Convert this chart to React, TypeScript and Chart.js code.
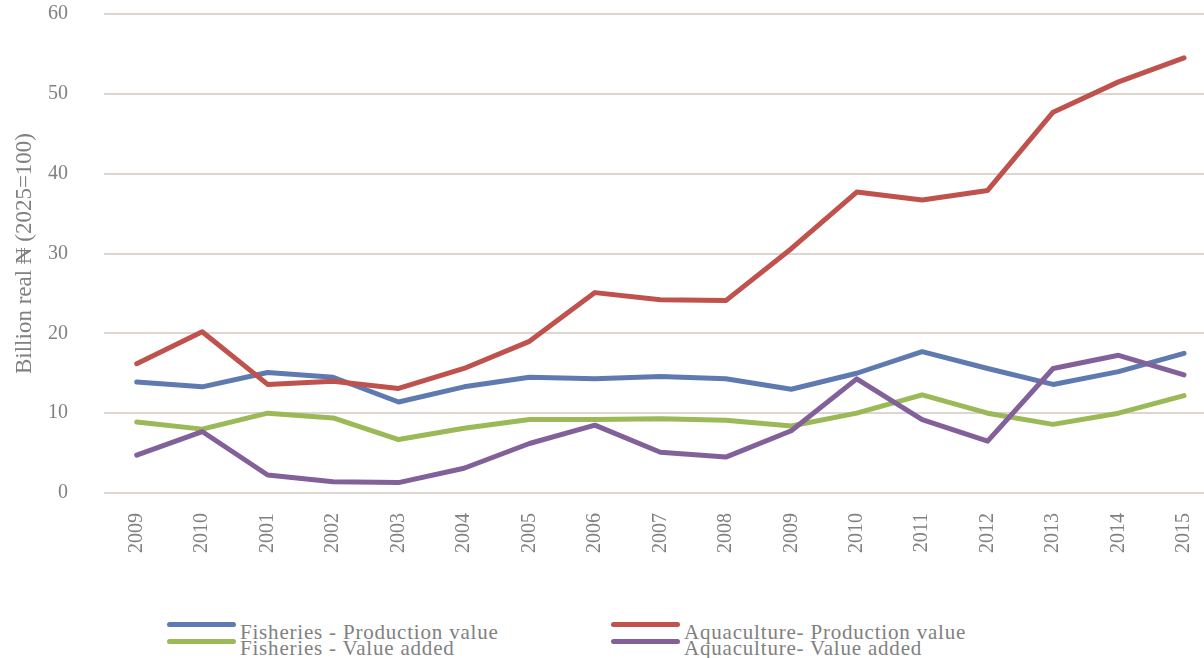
import React, { useEffect, useRef } from "react";
import { Chart, registerables } from "chart.js";

Chart.register(...registerables);

const categories = ["2009", "2010", "2001", "2002", "2003", "2004", "2005", "2006", "2007", "2008", "2009", "2010", "2011", "2012", "2013", "2014", "2015"];

const fisheriesProduction = [13.9, 13.3, 15.1, 14.5, 11.4, 13.3, 14.5, 14.3, 14.6, 14.3, 13.0, 15.0, 17.7, 15.6, 13.6, 15.2, 17.5];
const aquacultureProduction = [16.2, 20.2, 13.6, 14.0, 13.1, 15.6, 19.0, 25.1, 24.2, 24.1, 30.6, 37.7, 36.7, 37.9, 47.7, 51.5, 54.5];
const fisheriesValueAdded = [8.9, 8.0, 10.0, 9.4, 6.7, 8.1, 9.2, 9.2, 9.3, 9.1, 8.4, 10.0, 12.3, 10.0, 8.6, 10.0, 12.2];
const aquacultureValueAdded = [4.75, 7.7, 2.25, 1.4, 1.3, 3.1, 6.2, 8.5, 5.1, 4.5, 7.8, 14.3, 9.2, 6.5, 15.6, 17.25, 14.8];

const seriesNames = ["Fisheries - Production value", "Aquaculture- Production value", "Fisheries - Value added", "Aquaculture- Value added"];
const seriesColors = ["#5F7AB0", "#C0524D", "#9BB957", "#82619A"];
const seriesData = [fisheriesProduction, aquacultureProduction, fisheriesValueAdded, aquacultureValueAdded];

const yTitle = "Billion real \u20A6 (2025=100)";

const FONT = "'Liberation Serif', 'DejaVu Serif', serif";
const TEXT = "#808080";

const CANVAS_W = 1228;
const CANVAS_H = 640;
const SHIFT = 34; // canvas is shifted up by this amount
const AXIS_BOTTOM = 493 + SHIFT;

export default function App() {
  const ref = useRef<HTMLCanvasElement | null>(null);

  useEffect(() => {
    if (!ref.current) return;
    const chart = new Chart(ref.current, {
      type: "line",
      data: {
        labels: categories,
        datasets: seriesData.map((d, i) => ({
          label: seriesNames[i],
          data: d,
          borderColor: seriesColors[i],
          backgroundColor: seriesColors[i],
          borderWidth: 5,
          pointRadius: 0,
          borderCapStyle: "round" as const,
          borderJoinStyle: "round" as const,
          tension: 0,
          order: 4 - i,
        })),
      },
      options: {
        animation: false,
        responsive: false,
        devicePixelRatio: 1,
        layout: { padding: { top: 0, left: 0, right: 0, bottom: 0 } },
        plugins: {
          legend: { display: false },
          tooltip: { enabled: false },
        },
        scales: {
          x: {
            type: "category",
            offset: true,
            grid: { display: false, drawTicks: false },
            border: { display: false },
            ticks: {
              minRotation: 90,
              maxRotation: 90,
              autoSkip: false,
              padding: 20,
              color: TEXT,
              font: { family: FONT, size: 20 },
            },
            afterFit: (s: any) => {
              s.height = CANVAS_H - AXIS_BOTTOM;
            },
          },
          y: {
            min: 0,
            max: 60,
            ticks: {
              stepSize: 10,
              padding: 36,
              color: TEXT,
              font: { family: FONT, size: 20 },
            },
            grid: { color: "#DDD6D0", lineWidth: 2, drawTicks: false },
            border: { display: false },
            title: {
              display: true,
              text: yTitle,
              color: TEXT,
              font: { family: FONT, size: 23 },
              padding: { top: 11, bottom: 0 },
            },
            afterFit: (s: any) => {
              s.width = 104;
            },
          },
        },
      },
    });
    return () => chart.destroy();
  }, []);

  const legendPos = [
    { lineX: 167, textX: 240, top: 622, lineY: 622 },
    { lineX: 611, textX: 684, top: 622, lineY: 622 },
    { lineX: 167, textX: 240, top: 638, lineY: 639 },
    { lineX: 611, textX: 684, top: 638, lineY: 639 },
  ];

  return (
    <div style={{ position: "fixed", left: 0, top: 0, width: 1204, height: 658, overflow: "hidden", background: "#fff" }}>
      <canvas ref={ref} width={CANVAS_W} height={CANVAS_H} style={{ display: "block", position: "absolute", left: 0, top: -SHIFT }} />
      {seriesNames.map((name, i) => (
        <React.Fragment key={name}>
          <div
            style={{
              position: "absolute",
              left: legendPos[i].lineX,
              top: legendPos[i].lineY,
              width: 69,
              height: 5,
              borderRadius: 3,
              background: seriesColors[i],
            }}
          />
          <div
            style={{
              position: "absolute",
              left: legendPos[i].textX,
              top: legendPos[i].top,
              fontFamily: FONT,
              fontSize: 21,
              lineHeight: "20px",
              letterSpacing: "0.8px",
              color: TEXT,
              whiteSpace: "nowrap",
            }}
          >
            {name}
          </div>
        </React.Fragment>
      ))}
    </div>
  );
}
